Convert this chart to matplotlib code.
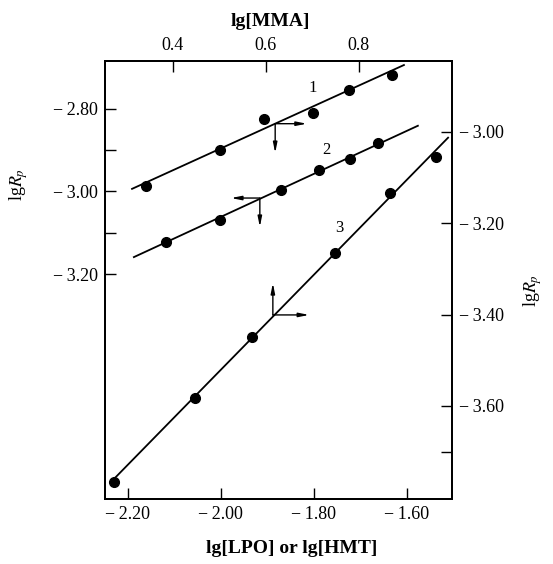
import numpy as np
import matplotlib
matplotlib.use("Agg")
import matplotlib.pyplot as plt
from matplotlib.ticker import FixedLocator, FuncFormatter

plt.rcParams['font.family'] = ['Liberation Serif', 'DejaVu Serif']
plt.rcParams['mathtext.fontset'] = 'stix'

# line 1: lg[LPO] or lg[HMT] (bottom) vs lgRp (right)
x1 = [-2.161, -2.002, -1.907, -1.802, -1.724, -1.632]
y1 = [-3.118, -3.039, -2.972, -2.958, -2.908, -2.875]
fit1_x = [-2.191, -1.606]
fit1_y = [-3.125, -2.854]

# line 2: lg[LPO] or lg[HMT] (bottom) vs lgRp (left)
x2 = [-2.118, -2.002, -1.871, -1.789, -1.722, -1.662]
y2 = [-3.122, -3.069, -2.996, -2.948, -2.921, -2.882]
fit2_x = [-2.187, -1.576]
fit2_y = [-3.159, -2.841]

# line 3: lg[MMA] (top) vs lgRp (right)
x3 = [0.273, 0.448, 0.570, 0.749, 0.867, 0.966]
y3 = [-3.766, -3.582, -3.449, -3.265, -3.134, -3.055]
fit3_x = [0.271, 0.992]
fit3_y = [-3.762, -3.013]

bottom_ticks = [-2.20, -2.00, -1.80, -1.60]
top_ticks = [0.4, 0.6, 0.8]
left_ticks = [-2.80, -3.00, -3.20]
right_ticks = [-3.00, -3.20, -3.40, -3.60]

fig = plt.figure(figsize=(5.53, 5.64), dpi=100)
ax = fig.add_axes([0.190, 0.115, 0.627, 0.777])
axr = ax.twinx()
axt = axr.twiny()

ax.set_xlim(-2.249, -1.503)
ax.set_ylim(-3.745, -2.684)
axr.set_ylim(-3.804, -2.845)
axt.set_xlim(0.254, 1.0)

def minus_fmt(nd):
    return FuncFormatter(lambda v, p: ('\u2212\u2009' if v < 0 else '') + f"{abs(v):.{nd}f}")

ax.xaxis.set_major_locator(FixedLocator(bottom_ticks))
ax.xaxis.set_major_formatter(minus_fmt(2))
ax.yaxis.set_major_locator(FixedLocator(left_ticks))
ax.yaxis.set_major_formatter(minus_fmt(2))
ax.yaxis.set_minor_locator(FixedLocator([-2.90, -3.10]))
axr.yaxis.set_major_locator(FixedLocator(right_ticks))
axr.yaxis.set_major_formatter(minus_fmt(2))
axr.yaxis.set_minor_locator(FixedLocator([-3.70]))
axt.xaxis.set_major_locator(FixedLocator(top_ticks))
axt.xaxis.set_major_formatter(minus_fmt(1))

for a in (ax, axr, axt):
    a.tick_params(which='major', direction='in', length=8, width=1.0, labelsize=13, pad=5)
    a.tick_params(which='minor', direction='in', length=8, width=1.0)
    for s in a.spines.values():
        s.set_linewidth(1.2)
ax.tick_params(axis='x', top=False)
axr.tick_params(axis='x', bottom=False, labelbottom=False)

mk = dict(marker='o', markersize=7, color='black', linestyle='none')
lw = 1.3
axr.plot(fit1_x, fit1_y, color='black', linewidth=lw)
axr.plot(x1, y1, **mk)
ax.plot(fit2_x, fit2_y, color='black', linewidth=lw)
ax.plot(x2, y2, **mk)
axt.plot(fit3_x, fit3_y, color='black', linewidth=lw)
axt.plot(x3, y3, **mk)

ax.text(-1.802, -2.749, '1', fontsize=12, ha='center', va='center')
ax.text(-1.772, -2.899, '2', fontsize=12, ha='center', va='center')
ax.text(-1.746, -3.088, '3', fontsize=12, ha='center', va='center')

arr = dict(arrowstyle='-|>,head_length=0.6,head_width=0.12', color='black', lw=1.0,
           shrinkA=0, shrinkB=0)
marks = [((-1.883, -2.836), (-1.815, -2.836)), ((-1.883, -2.836), (-1.883, -2.907)),
         ((-1.916, -3.016), (-1.978, -3.016)), ((-1.916, -3.016), (-1.916, -3.086)),
         ((-1.888, -3.299), (-1.888, -3.222)), ((-1.888, -3.299), (-1.810, -3.299))]
for start, end in marks:
    ax.annotate('', xy=end, xytext=start, arrowprops=arr)

ax.set_ylabel('lg$R_p$', fontsize=13)
ax.yaxis.set_label_coords(-0.216, 0.717)
axr.set_ylabel('lg$R_p$', fontsize=13)
axr.yaxis.set_label_coords(1.20, 0.477)
axt.set_xlabel('lg[MMA]', fontsize=14, fontweight='bold')
axt.xaxis.set_label_coords(0.476, 1.080)
ax.set_xlabel('lg[LPO] or lg[HMT]', fontsize=14, fontweight='bold')
ax.xaxis.set_label_coords(0.539, -0.094)

fig.savefig('out.png', dpi=100)
